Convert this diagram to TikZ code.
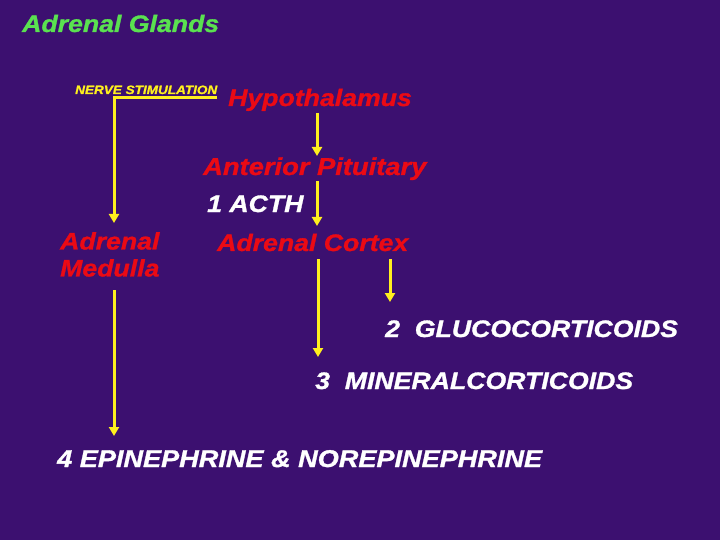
\documentclass[tikz,border=0pt]{standalone}
\usepackage{fontspec}
\newfontfamily\hf[FakeStretch=1.12,FakeBold=1.2,BoldItalicFont={Liberation Sans Bold Italic}]{Liberation Sans}
\usetikzlibrary{arrows.meta}
\definecolor{bg}{RGB}{60,16,112}
\definecolor{ttl}{RGB}{90,225,80}
\definecolor{rd}{RGB}{235,10,20}
\definecolor{yl}{RGB}{255,240,30}
\tikzset{
  lbl/.style={anchor=base west,inner sep=0pt,font=\hf\bfseries\itshape\fontsize{23.8}{28}\selectfont},
  organ/.style={lbl,text=rd},
  hormone/.style={lbl,text=white},
  flow/.style={draw=yl,line width=3pt,-{Triangle[length=9pt,width=10pt]}},
}
\begin{document}
\begin{tikzpicture}[x=1pt,y=-1pt]
\fill[bg] (0,0) rectangle (720,540);
\useasboundingbox (0,0) rectangle (720,540);
\node[lbl,text=ttl] (title) at (22,32) {Adrenal Glands};
\node[lbl,text=yl,font=\hf\bfseries\itshape\fontsize{12.1}{14}\selectfont] (nerve) at (75,94) {NERVE STIMULATION};
\node[organ] (hypo) at (228,106) {Hypothalamus};
\node[organ,font=\hf\bfseries\itshape\fontsize{24.4}{28}\selectfont] (ant) at (203,175) {Anterior Pituitary};
\node[hormone] (acth) at (207,212) {1 ACTH};
\node[organ,align=left,anchor=north west] (med) at (60,232) {Adrenal\\[-1pt]Medulla};
\node[organ] (cortex) at (217,251) {Adrenal Cortex};
\node[hormone] (gluco) at (385,337) {2\ \ GLUCOCORTICOIDS};
\node[hormone] (mineral) at (315,389) {3\ \ MINERALCORTICOIDS};
\node[hormone,font=\hf\bfseries\itshape\fontsize{24.2}{28}\selectfont] (epi) at (57,467) {4\ EPINEPHRINE \& NOREPINEPHRINE};
% coordinates
\coordinate (n1) at (217,98);
\coordinate (n2) at (114,98);
\coordinate (n3) at (114,223);
\coordinate (h1) at (317,113);
\coordinate (h2) at (317,156);
\coordinate (a1) at (317,181);
\coordinate (a2) at (317,226);
\coordinate (c1) at (390,259);
\coordinate (c2) at (390,302);
\coordinate (m1) at (318,259);
\coordinate (m2) at (318,357);
\coordinate (d1) at (114,290);
\coordinate (d2) at (114,436);
\draw[flow] (n1) -- (n2) -- (n3);
\draw[flow] (h1) -- (h2);
\draw[flow] (a1) -- (a2);
\draw[flow] (c1) -- (c2);
\draw[flow] (m1) -- (m2);
\draw[flow] (d1) -- (d2);
\end{tikzpicture}
\end{document}
